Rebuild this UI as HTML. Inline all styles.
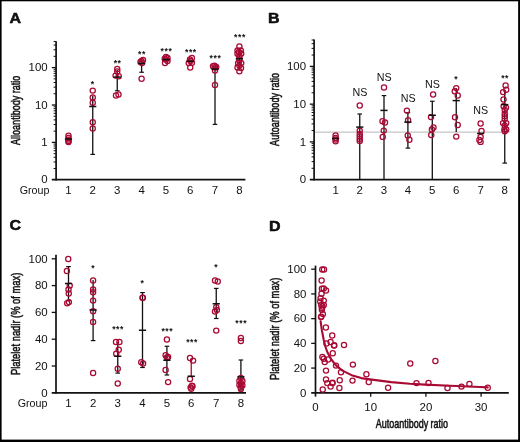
<!DOCTYPE html>
<html><head><meta charset="utf-8"><title>Figure</title>
<style>
html,body{margin:0;padding:0;background:#fff;}
body{width:520px;height:442px;overflow:hidden;position:relative;}
svg{position:absolute;left:0;top:0;display:block;font-family:"Liberation Sans",sans-serif;fill:#111;}
</style></head><body>
<svg width="520" height="442" viewBox="0 0 520 442">
<rect x="0" y="0" width="520" height="442" fill="#fff"/>
<text transform="translate(15.40,23.40) scale(1.07,1)" font-size="15" text-anchor="middle" font-weight="bold" stroke="#000" stroke-width="0.5" stroke-linejoin="round">A</text>
<line x1="56.10" y1="41.20" x2="56.10" y2="180.45" stroke="#111" stroke-width="1.7" stroke-linecap="butt"/>
<line x1="51.80" y1="179.60" x2="245.40" y2="179.60" stroke="#111" stroke-width="1.7" stroke-linecap="butt"/>
<line x1="53.60" y1="168.54" x2="56.10" y2="168.54" stroke="#111" stroke-width="1.0" stroke-linecap="butt"/>
<line x1="53.60" y1="161.96" x2="56.10" y2="161.96" stroke="#111" stroke-width="1.0" stroke-linecap="butt"/>
<line x1="53.60" y1="157.28" x2="56.10" y2="157.28" stroke="#111" stroke-width="1.0" stroke-linecap="butt"/>
<line x1="53.60" y1="153.66" x2="56.10" y2="153.66" stroke="#111" stroke-width="1.0" stroke-linecap="butt"/>
<line x1="53.60" y1="150.70" x2="56.10" y2="150.70" stroke="#111" stroke-width="1.0" stroke-linecap="butt"/>
<line x1="53.60" y1="148.19" x2="56.10" y2="148.19" stroke="#111" stroke-width="1.0" stroke-linecap="butt"/>
<line x1="53.60" y1="146.02" x2="56.10" y2="146.02" stroke="#111" stroke-width="1.0" stroke-linecap="butt"/>
<line x1="53.60" y1="144.11" x2="56.10" y2="144.11" stroke="#111" stroke-width="1.0" stroke-linecap="butt"/>
<line x1="51.80" y1="142.40" x2="56.10" y2="142.40" stroke="#111" stroke-width="1.3" stroke-linecap="butt"/>
<line x1="53.60" y1="131.14" x2="56.10" y2="131.14" stroke="#111" stroke-width="1.0" stroke-linecap="butt"/>
<line x1="53.60" y1="124.56" x2="56.10" y2="124.56" stroke="#111" stroke-width="1.0" stroke-linecap="butt"/>
<line x1="53.60" y1="119.88" x2="56.10" y2="119.88" stroke="#111" stroke-width="1.0" stroke-linecap="butt"/>
<line x1="53.60" y1="116.26" x2="56.10" y2="116.26" stroke="#111" stroke-width="1.0" stroke-linecap="butt"/>
<line x1="53.60" y1="113.30" x2="56.10" y2="113.30" stroke="#111" stroke-width="1.0" stroke-linecap="butt"/>
<line x1="53.60" y1="110.79" x2="56.10" y2="110.79" stroke="#111" stroke-width="1.0" stroke-linecap="butt"/>
<line x1="53.60" y1="108.62" x2="56.10" y2="108.62" stroke="#111" stroke-width="1.0" stroke-linecap="butt"/>
<line x1="53.60" y1="106.71" x2="56.10" y2="106.71" stroke="#111" stroke-width="1.0" stroke-linecap="butt"/>
<line x1="51.80" y1="105.00" x2="56.10" y2="105.00" stroke="#111" stroke-width="1.3" stroke-linecap="butt"/>
<line x1="53.60" y1="93.74" x2="56.10" y2="93.74" stroke="#111" stroke-width="1.0" stroke-linecap="butt"/>
<line x1="53.60" y1="87.16" x2="56.10" y2="87.16" stroke="#111" stroke-width="1.0" stroke-linecap="butt"/>
<line x1="53.60" y1="82.48" x2="56.10" y2="82.48" stroke="#111" stroke-width="1.0" stroke-linecap="butt"/>
<line x1="53.60" y1="78.86" x2="56.10" y2="78.86" stroke="#111" stroke-width="1.0" stroke-linecap="butt"/>
<line x1="53.60" y1="75.90" x2="56.10" y2="75.90" stroke="#111" stroke-width="1.0" stroke-linecap="butt"/>
<line x1="53.60" y1="73.39" x2="56.10" y2="73.39" stroke="#111" stroke-width="1.0" stroke-linecap="butt"/>
<line x1="53.60" y1="71.22" x2="56.10" y2="71.22" stroke="#111" stroke-width="1.0" stroke-linecap="butt"/>
<line x1="53.60" y1="69.31" x2="56.10" y2="69.31" stroke="#111" stroke-width="1.0" stroke-linecap="butt"/>
<line x1="51.80" y1="67.60" x2="56.10" y2="67.60" stroke="#111" stroke-width="1.3" stroke-linecap="butt"/>
<line x1="53.60" y1="56.34" x2="56.10" y2="56.34" stroke="#111" stroke-width="1.0" stroke-linecap="butt"/>
<line x1="53.60" y1="49.76" x2="56.10" y2="49.76" stroke="#111" stroke-width="1.0" stroke-linecap="butt"/>
<line x1="53.60" y1="45.08" x2="56.10" y2="45.08" stroke="#111" stroke-width="1.0" stroke-linecap="butt"/>
<line x1="53.60" y1="41.46" x2="56.10" y2="41.46" stroke="#111" stroke-width="1.0" stroke-linecap="butt"/>
<text transform="translate(47.70,71.25) scale(1.08,1)" font-size="10.6" text-anchor="end" font-weight="normal" >100</text>
<text transform="translate(47.70,108.75) scale(1.08,1)" font-size="10.6" text-anchor="end" font-weight="normal" >10</text>
<text transform="translate(47.70,146.15) scale(1.08,1)" font-size="10.6" text-anchor="end" font-weight="normal" >1</text>
<text transform="translate(47.70,183.35) scale(1.08,1)" font-size="10.6" text-anchor="end" font-weight="normal" >0</text>
<text transform="translate(20.00,110.30) rotate(-90) scale(0.7077,1)" font-size="12.8" text-anchor="middle" stroke="#111" stroke-width="0.55" stroke-linejoin="round">Alloantibody ratio</text>
<text transform="translate(34.60,193.50) scale(1.0,1)" font-size="10.7" text-anchor="middle" font-weight="normal" >Group</text>
<text transform="translate(68.50,193.70) scale(1.08,1)" font-size="10.6" text-anchor="middle" font-weight="normal" >1</text>
<text transform="translate(92.75,193.70) scale(1.08,1)" font-size="10.6" text-anchor="middle" font-weight="normal" >2</text>
<text transform="translate(117.25,193.70) scale(1.08,1)" font-size="10.6" text-anchor="middle" font-weight="normal" >3</text>
<text transform="translate(141.60,193.70) scale(1.08,1)" font-size="10.6" text-anchor="middle" font-weight="normal" >4</text>
<text transform="translate(166.00,193.70) scale(1.08,1)" font-size="10.6" text-anchor="middle" font-weight="normal" >5</text>
<text transform="translate(190.30,193.70) scale(1.08,1)" font-size="10.6" text-anchor="middle" font-weight="normal" >6</text>
<text transform="translate(215.00,193.70) scale(1.08,1)" font-size="10.6" text-anchor="middle" font-weight="normal" >7</text>
<text transform="translate(239.40,193.70) scale(1.08,1)" font-size="10.6" text-anchor="middle" font-weight="normal" >8</text>
<line x1="92.75" y1="95.60" x2="92.75" y2="154.40" stroke="#111" stroke-width="1.3" stroke-linecap="butt"/>
<line x1="90.45" y1="154.40" x2="95.05" y2="154.40" stroke="#111" stroke-width="1.2" stroke-linecap="butt"/>
<line x1="117.25" y1="70.00" x2="117.25" y2="90.75" stroke="#111" stroke-width="1.3" stroke-linecap="butt"/>
<line x1="114.95" y1="90.75" x2="119.55" y2="90.75" stroke="#111" stroke-width="1.2" stroke-linecap="butt"/>
<line x1="141.60" y1="60.00" x2="141.60" y2="72.25" stroke="#111" stroke-width="1.3" stroke-linecap="butt"/>
<line x1="139.30" y1="72.25" x2="143.90" y2="72.25" stroke="#111" stroke-width="1.2" stroke-linecap="butt"/>
<line x1="215.00" y1="66.00" x2="215.00" y2="124.40" stroke="#111" stroke-width="1.3" stroke-linecap="butt"/>
<line x1="212.70" y1="124.40" x2="217.30" y2="124.40" stroke="#111" stroke-width="1.2" stroke-linecap="butt"/>
<line x1="239.40" y1="50.00" x2="239.40" y2="68.00" stroke="#111" stroke-width="1.3" stroke-linecap="butt"/>
<circle cx="68.50" cy="135.60" r="2.6" fill="none" stroke="#A90A33" stroke-width="1.25"/>
<circle cx="68.50" cy="138.00" r="2.6" fill="none" stroke="#A90A33" stroke-width="1.25"/>
<circle cx="68.50" cy="139.60" r="2.6" fill="none" stroke="#A90A33" stroke-width="1.25"/>
<circle cx="68.50" cy="141.00" r="2.6" fill="none" stroke="#A90A33" stroke-width="1.25"/>
<circle cx="68.50" cy="142.00" r="2.6" fill="none" stroke="#A90A33" stroke-width="1.25"/>
<circle cx="92.75" cy="90.60" r="2.6" fill="none" stroke="#A90A33" stroke-width="1.25"/>
<circle cx="92.75" cy="97.50" r="2.6" fill="none" stroke="#A90A33" stroke-width="1.25"/>
<circle cx="92.75" cy="102.75" r="2.6" fill="none" stroke="#A90A33" stroke-width="1.25"/>
<circle cx="92.75" cy="122.25" r="2.6" fill="none" stroke="#A90A33" stroke-width="1.25"/>
<circle cx="92.75" cy="128.50" r="2.6" fill="none" stroke="#A90A33" stroke-width="1.25"/>
<circle cx="117.25" cy="69.00" r="2.6" fill="none" stroke="#A90A33" stroke-width="1.25"/>
<circle cx="117.25" cy="71.40" r="2.6" fill="none" stroke="#A90A33" stroke-width="1.25"/>
<circle cx="115.60" cy="75.60" r="2.6" fill="none" stroke="#A90A33" stroke-width="1.25"/>
<circle cx="118.75" cy="76.25" r="2.6" fill="none" stroke="#A90A33" stroke-width="1.25"/>
<circle cx="116.00" cy="95.40" r="2.6" fill="none" stroke="#A90A33" stroke-width="1.25"/>
<circle cx="118.50" cy="94.40" r="2.6" fill="none" stroke="#A90A33" stroke-width="1.25"/>
<circle cx="140.50" cy="62.00" r="2.6" fill="none" stroke="#A90A33" stroke-width="1.25"/>
<circle cx="143.00" cy="60.00" r="2.6" fill="none" stroke="#A90A33" stroke-width="1.25"/>
<circle cx="141.50" cy="61.00" r="2.6" fill="none" stroke="#A90A33" stroke-width="1.25"/>
<circle cx="142.00" cy="63.00" r="2.6" fill="none" stroke="#A90A33" stroke-width="1.25"/>
<circle cx="141.60" cy="78.75" r="2.6" fill="none" stroke="#A90A33" stroke-width="1.25"/>
<circle cx="166.00" cy="56.90" r="2.6" fill="none" stroke="#A90A33" stroke-width="1.25"/>
<circle cx="164.75" cy="58.75" r="2.6" fill="none" stroke="#A90A33" stroke-width="1.25"/>
<circle cx="167.50" cy="58.00" r="2.6" fill="none" stroke="#A90A33" stroke-width="1.25"/>
<circle cx="165.00" cy="63.00" r="2.6" fill="none" stroke="#A90A33" stroke-width="1.25"/>
<circle cx="167.50" cy="61.00" r="2.6" fill="none" stroke="#A90A33" stroke-width="1.25"/>
<circle cx="166.00" cy="59.50" r="2.6" fill="none" stroke="#A90A33" stroke-width="1.25"/>
<circle cx="190.00" cy="59.40" r="2.6" fill="none" stroke="#A90A33" stroke-width="1.25"/>
<circle cx="191.90" cy="58.00" r="2.6" fill="none" stroke="#A90A33" stroke-width="1.25"/>
<circle cx="188.75" cy="63.00" r="2.6" fill="none" stroke="#A90A33" stroke-width="1.25"/>
<circle cx="191.90" cy="62.75" r="2.6" fill="none" stroke="#A90A33" stroke-width="1.25"/>
<circle cx="190.25" cy="67.50" r="2.6" fill="none" stroke="#A90A33" stroke-width="1.25"/>
<circle cx="190.50" cy="61.00" r="2.6" fill="none" stroke="#A90A33" stroke-width="1.25"/>
<circle cx="214.40" cy="65.60" r="2.6" fill="none" stroke="#A90A33" stroke-width="1.25"/>
<circle cx="216.25" cy="66.90" r="2.6" fill="none" stroke="#A90A33" stroke-width="1.25"/>
<circle cx="213.00" cy="66.25" r="2.6" fill="none" stroke="#A90A33" stroke-width="1.25"/>
<circle cx="215.00" cy="70.60" r="2.6" fill="none" stroke="#A90A33" stroke-width="1.25"/>
<circle cx="215.00" cy="67.50" r="2.6" fill="none" stroke="#A90A33" stroke-width="1.25"/>
<circle cx="215.00" cy="85.00" r="2.6" fill="none" stroke="#A90A33" stroke-width="1.25"/>
<circle cx="239.40" cy="46.50" r="2.6" fill="none" stroke="#A90A33" stroke-width="1.25"/>
<circle cx="237.50" cy="50.50" r="2.6" fill="none" stroke="#A90A33" stroke-width="1.25"/>
<circle cx="240.80" cy="50.50" r="2.6" fill="none" stroke="#A90A33" stroke-width="1.25"/>
<circle cx="238.75" cy="51.90" r="2.6" fill="none" stroke="#A90A33" stroke-width="1.25"/>
<circle cx="237.50" cy="53.75" r="2.6" fill="none" stroke="#A90A33" stroke-width="1.25"/>
<circle cx="241.25" cy="53.50" r="2.6" fill="none" stroke="#A90A33" stroke-width="1.25"/>
<circle cx="239.40" cy="55.60" r="2.6" fill="none" stroke="#A90A33" stroke-width="1.25"/>
<circle cx="238.10" cy="63.10" r="2.6" fill="none" stroke="#A90A33" stroke-width="1.25"/>
<circle cx="241.25" cy="63.10" r="2.6" fill="none" stroke="#A90A33" stroke-width="1.25"/>
<circle cx="239.40" cy="65.60" r="2.6" fill="none" stroke="#A90A33" stroke-width="1.25"/>
<circle cx="237.50" cy="67.50" r="2.6" fill="none" stroke="#A90A33" stroke-width="1.25"/>
<circle cx="241.00" cy="68.10" r="2.6" fill="none" stroke="#A90A33" stroke-width="1.25"/>
<circle cx="239.40" cy="71.25" r="2.6" fill="none" stroke="#A90A33" stroke-width="1.25"/>
<circle cx="239.40" cy="60.50" r="2.6" fill="none" stroke="#A90A33" stroke-width="1.25"/>
<circle cx="239.40" cy="58.00" r="2.6" fill="none" stroke="#A90A33" stroke-width="1.25"/>
<line x1="64.90" y1="139.00" x2="72.10" y2="139.00" stroke="#111" stroke-width="1.5" stroke-linecap="butt"/>
<line x1="89.15" y1="106.50" x2="96.35" y2="106.50" stroke="#111" stroke-width="1.5" stroke-linecap="butt"/>
<line x1="113.65" y1="77.10" x2="120.85" y2="77.10" stroke="#111" stroke-width="1.5" stroke-linecap="butt"/>
<line x1="138.00" y1="63.50" x2="145.20" y2="63.50" stroke="#111" stroke-width="1.5" stroke-linecap="butt"/>
<line x1="162.40" y1="59.60" x2="169.60" y2="59.60" stroke="#111" stroke-width="1.5" stroke-linecap="butt"/>
<line x1="186.70" y1="61.25" x2="193.90" y2="61.25" stroke="#111" stroke-width="1.5" stroke-linecap="butt"/>
<line x1="211.40" y1="69.10" x2="218.60" y2="69.10" stroke="#111" stroke-width="1.5" stroke-linecap="butt"/>
<line x1="235.80" y1="58.75" x2="243.00" y2="58.75" stroke="#111" stroke-width="1.5" stroke-linecap="butt"/>
<text transform="translate(92.60,86.79) scale(1.0,1)" font-size="8.6" text-anchor="middle" font-weight="bold" letter-spacing="0.6">*</text>
<text transform="translate(117.60,66.39) scale(1.0,1)" font-size="8.6" text-anchor="middle" font-weight="bold" letter-spacing="0.6">**</text>
<text transform="translate(142.00,56.99) scale(1.0,1)" font-size="8.6" text-anchor="middle" font-weight="bold" letter-spacing="0.6">**</text>
<text transform="translate(166.50,53.89) scale(1.0,1)" font-size="8.6" text-anchor="middle" font-weight="bold" letter-spacing="0.6">***</text>
<text transform="translate(190.90,55.49) scale(1.0,1)" font-size="8.6" text-anchor="middle" font-weight="bold" letter-spacing="0.6">***</text>
<text transform="translate(215.50,61.09) scale(1.0,1)" font-size="8.6" text-anchor="middle" font-weight="bold" letter-spacing="0.6">***</text>
<text transform="translate(240.00,39.89) scale(1.0,1)" font-size="8.6" text-anchor="middle" font-weight="bold" letter-spacing="0.6">***</text>
<text transform="translate(273.80,23.40) scale(1.07,1)" font-size="15" text-anchor="middle" font-weight="bold" stroke="#000" stroke-width="0.5" stroke-linejoin="round">B</text>
<line x1="314.10" y1="39.60" x2="314.10" y2="180.45" stroke="#111" stroke-width="1.7" stroke-linecap="butt"/>
<line x1="309.80" y1="179.60" x2="509.80" y2="179.60" stroke="#111" stroke-width="1.7" stroke-linecap="butt"/>
<line x1="311.60" y1="168.29" x2="314.10" y2="168.29" stroke="#111" stroke-width="1.0" stroke-linecap="butt"/>
<line x1="311.60" y1="161.64" x2="314.10" y2="161.64" stroke="#111" stroke-width="1.0" stroke-linecap="butt"/>
<line x1="311.60" y1="156.92" x2="314.10" y2="156.92" stroke="#111" stroke-width="1.0" stroke-linecap="butt"/>
<line x1="311.60" y1="153.26" x2="314.10" y2="153.26" stroke="#111" stroke-width="1.0" stroke-linecap="butt"/>
<line x1="311.60" y1="150.27" x2="314.10" y2="150.27" stroke="#111" stroke-width="1.0" stroke-linecap="butt"/>
<line x1="311.60" y1="147.75" x2="314.10" y2="147.75" stroke="#111" stroke-width="1.0" stroke-linecap="butt"/>
<line x1="311.60" y1="145.56" x2="314.10" y2="145.56" stroke="#111" stroke-width="1.0" stroke-linecap="butt"/>
<line x1="311.60" y1="143.63" x2="314.10" y2="143.63" stroke="#111" stroke-width="1.0" stroke-linecap="butt"/>
<line x1="309.80" y1="141.90" x2="314.10" y2="141.90" stroke="#111" stroke-width="1.3" stroke-linecap="butt"/>
<line x1="311.60" y1="130.54" x2="314.10" y2="130.54" stroke="#111" stroke-width="1.0" stroke-linecap="butt"/>
<line x1="311.60" y1="123.89" x2="314.10" y2="123.89" stroke="#111" stroke-width="1.0" stroke-linecap="butt"/>
<line x1="311.60" y1="119.17" x2="314.10" y2="119.17" stroke="#111" stroke-width="1.0" stroke-linecap="butt"/>
<line x1="311.60" y1="115.51" x2="314.10" y2="115.51" stroke="#111" stroke-width="1.0" stroke-linecap="butt"/>
<line x1="311.60" y1="112.52" x2="314.10" y2="112.52" stroke="#111" stroke-width="1.0" stroke-linecap="butt"/>
<line x1="311.60" y1="110.00" x2="314.10" y2="110.00" stroke="#111" stroke-width="1.0" stroke-linecap="butt"/>
<line x1="311.60" y1="107.81" x2="314.10" y2="107.81" stroke="#111" stroke-width="1.0" stroke-linecap="butt"/>
<line x1="311.60" y1="105.88" x2="314.10" y2="105.88" stroke="#111" stroke-width="1.0" stroke-linecap="butt"/>
<line x1="309.80" y1="104.15" x2="314.10" y2="104.15" stroke="#111" stroke-width="1.3" stroke-linecap="butt"/>
<line x1="311.60" y1="92.79" x2="314.10" y2="92.79" stroke="#111" stroke-width="1.0" stroke-linecap="butt"/>
<line x1="311.60" y1="86.14" x2="314.10" y2="86.14" stroke="#111" stroke-width="1.0" stroke-linecap="butt"/>
<line x1="311.60" y1="81.42" x2="314.10" y2="81.42" stroke="#111" stroke-width="1.0" stroke-linecap="butt"/>
<line x1="311.60" y1="77.76" x2="314.10" y2="77.76" stroke="#111" stroke-width="1.0" stroke-linecap="butt"/>
<line x1="311.60" y1="74.77" x2="314.10" y2="74.77" stroke="#111" stroke-width="1.0" stroke-linecap="butt"/>
<line x1="311.60" y1="72.25" x2="314.10" y2="72.25" stroke="#111" stroke-width="1.0" stroke-linecap="butt"/>
<line x1="311.60" y1="70.06" x2="314.10" y2="70.06" stroke="#111" stroke-width="1.0" stroke-linecap="butt"/>
<line x1="311.60" y1="68.13" x2="314.10" y2="68.13" stroke="#111" stroke-width="1.0" stroke-linecap="butt"/>
<line x1="309.80" y1="66.40" x2="314.10" y2="66.40" stroke="#111" stroke-width="1.3" stroke-linecap="butt"/>
<line x1="311.60" y1="55.04" x2="314.10" y2="55.04" stroke="#111" stroke-width="1.0" stroke-linecap="butt"/>
<line x1="311.60" y1="48.39" x2="314.10" y2="48.39" stroke="#111" stroke-width="1.0" stroke-linecap="butt"/>
<line x1="311.60" y1="43.67" x2="314.10" y2="43.67" stroke="#111" stroke-width="1.0" stroke-linecap="butt"/>
<line x1="311.60" y1="40.01" x2="314.10" y2="40.01" stroke="#111" stroke-width="1.0" stroke-linecap="butt"/>
<text transform="translate(306.00,70.05) scale(1.08,1)" font-size="10.6" text-anchor="end" font-weight="normal" >100</text>
<text transform="translate(306.00,107.85) scale(1.08,1)" font-size="10.6" text-anchor="end" font-weight="normal" >10</text>
<text transform="translate(306.00,145.65) scale(1.08,1)" font-size="10.6" text-anchor="end" font-weight="normal" >1</text>
<text transform="translate(306.00,183.35) scale(1.08,1)" font-size="10.6" text-anchor="end" font-weight="normal" >0</text>
<text transform="translate(279.20,109.40) rotate(-90) scale(0.7075,1)" font-size="12.8" text-anchor="middle" stroke="#111" stroke-width="0.55" stroke-linejoin="round">Autoantibody ratio</text>
<text transform="translate(335.60,193.70) scale(1.08,1)" font-size="10.6" text-anchor="middle" font-weight="normal" >1</text>
<text transform="translate(359.75,193.70) scale(1.08,1)" font-size="10.6" text-anchor="middle" font-weight="normal" >2</text>
<text transform="translate(384.00,193.70) scale(1.08,1)" font-size="10.6" text-anchor="middle" font-weight="normal" >3</text>
<text transform="translate(407.90,193.70) scale(1.08,1)" font-size="10.6" text-anchor="middle" font-weight="normal" >4</text>
<text transform="translate(432.30,193.70) scale(1.08,1)" font-size="10.6" text-anchor="middle" font-weight="normal" >5</text>
<text transform="translate(456.25,193.70) scale(1.08,1)" font-size="10.6" text-anchor="middle" font-weight="normal" >6</text>
<text transform="translate(480.60,193.70) scale(1.08,1)" font-size="10.6" text-anchor="middle" font-weight="normal" >7</text>
<text transform="translate(504.75,193.70) scale(1.08,1)" font-size="10.6" text-anchor="middle" font-weight="normal" >8</text>
<line x1="315.00" y1="132.10" x2="510.00" y2="132.10" stroke="#c4c4c8" stroke-width="1.4" stroke-linecap="butt"/>
<line x1="359.75" y1="114.00" x2="359.75" y2="179.60" stroke="#111" stroke-width="1.3" stroke-linecap="butt"/>
<line x1="357.45" y1="114.00" x2="362.05" y2="114.00" stroke="#111" stroke-width="1.2" stroke-linecap="butt"/>
<line x1="384.00" y1="95.60" x2="384.00" y2="179.60" stroke="#111" stroke-width="1.3" stroke-linecap="butt"/>
<line x1="381.70" y1="95.60" x2="386.30" y2="95.60" stroke="#111" stroke-width="1.2" stroke-linecap="butt"/>
<line x1="407.90" y1="112.75" x2="407.90" y2="148.10" stroke="#111" stroke-width="1.3" stroke-linecap="butt"/>
<line x1="405.60" y1="112.75" x2="410.20" y2="112.75" stroke="#111" stroke-width="1.2" stroke-linecap="butt"/>
<line x1="405.60" y1="148.10" x2="410.20" y2="148.10" stroke="#111" stroke-width="1.2" stroke-linecap="butt"/>
<line x1="432.30" y1="101.25" x2="432.30" y2="179.60" stroke="#111" stroke-width="1.3" stroke-linecap="butt"/>
<line x1="430.00" y1="101.25" x2="434.60" y2="101.25" stroke="#111" stroke-width="1.2" stroke-linecap="butt"/>
<line x1="456.25" y1="88.00" x2="456.25" y2="131.90" stroke="#111" stroke-width="1.3" stroke-linecap="butt"/>
<line x1="504.75" y1="90.00" x2="504.75" y2="163.10" stroke="#111" stroke-width="1.3" stroke-linecap="butt"/>
<line x1="502.45" y1="163.10" x2="507.05" y2="163.10" stroke="#111" stroke-width="1.2" stroke-linecap="butt"/>
<circle cx="335.60" cy="135.50" r="2.6" fill="none" stroke="#A90A33" stroke-width="1.25"/>
<circle cx="335.60" cy="138.00" r="2.6" fill="none" stroke="#A90A33" stroke-width="1.25"/>
<circle cx="335.60" cy="139.50" r="2.6" fill="none" stroke="#A90A33" stroke-width="1.25"/>
<circle cx="335.60" cy="141.20" r="2.6" fill="none" stroke="#A90A33" stroke-width="1.25"/>
<circle cx="359.75" cy="105.40" r="2.6" fill="none" stroke="#A90A33" stroke-width="1.25"/>
<circle cx="359.75" cy="130.60" r="2.6" fill="none" stroke="#A90A33" stroke-width="1.25"/>
<circle cx="359.75" cy="134.00" r="2.6" fill="none" stroke="#A90A33" stroke-width="1.25"/>
<circle cx="359.75" cy="136.50" r="2.6" fill="none" stroke="#A90A33" stroke-width="1.25"/>
<circle cx="359.75" cy="139.00" r="2.6" fill="none" stroke="#A90A33" stroke-width="1.25"/>
<circle cx="359.75" cy="141.00" r="2.6" fill="none" stroke="#A90A33" stroke-width="1.25"/>
<circle cx="384.00" cy="87.50" r="2.6" fill="none" stroke="#A90A33" stroke-width="1.25"/>
<circle cx="382.50" cy="121.25" r="2.6" fill="none" stroke="#A90A33" stroke-width="1.25"/>
<circle cx="385.00" cy="122.50" r="2.6" fill="none" stroke="#A90A33" stroke-width="1.25"/>
<circle cx="383.75" cy="130.60" r="2.6" fill="none" stroke="#A90A33" stroke-width="1.25"/>
<circle cx="382.75" cy="136.90" r="2.6" fill="none" stroke="#A90A33" stroke-width="1.25"/>
<circle cx="406.90" cy="110.60" r="2.6" fill="none" stroke="#A90A33" stroke-width="1.25"/>
<circle cx="408.10" cy="120.25" r="2.6" fill="none" stroke="#A90A33" stroke-width="1.25"/>
<circle cx="407.75" cy="135.40" r="2.6" fill="none" stroke="#A90A33" stroke-width="1.25"/>
<circle cx="409.40" cy="139.75" r="2.6" fill="none" stroke="#A90A33" stroke-width="1.25"/>
<circle cx="433.10" cy="94.40" r="2.6" fill="none" stroke="#A90A33" stroke-width="1.25"/>
<circle cx="431.00" cy="117.10" r="2.6" fill="none" stroke="#A90A33" stroke-width="1.25"/>
<circle cx="433.50" cy="127.50" r="2.6" fill="none" stroke="#A90A33" stroke-width="1.25"/>
<circle cx="431.90" cy="129.40" r="2.6" fill="none" stroke="#A90A33" stroke-width="1.25"/>
<circle cx="431.25" cy="135.00" r="2.6" fill="none" stroke="#A90A33" stroke-width="1.25"/>
<circle cx="456.25" cy="88.10" r="2.6" fill="none" stroke="#A90A33" stroke-width="1.25"/>
<circle cx="454.75" cy="91.25" r="2.6" fill="none" stroke="#A90A33" stroke-width="1.25"/>
<circle cx="457.75" cy="95.40" r="2.6" fill="none" stroke="#A90A33" stroke-width="1.25"/>
<circle cx="455.00" cy="117.25" r="2.6" fill="none" stroke="#A90A33" stroke-width="1.25"/>
<circle cx="457.75" cy="125.00" r="2.6" fill="none" stroke="#A90A33" stroke-width="1.25"/>
<circle cx="456.25" cy="136.60" r="2.6" fill="none" stroke="#A90A33" stroke-width="1.25"/>
<circle cx="480.60" cy="123.40" r="2.6" fill="none" stroke="#A90A33" stroke-width="1.25"/>
<circle cx="481.50" cy="131.00" r="2.6" fill="none" stroke="#A90A33" stroke-width="1.25"/>
<circle cx="480.60" cy="136.90" r="2.6" fill="none" stroke="#A90A33" stroke-width="1.25"/>
<circle cx="479.40" cy="140.00" r="2.6" fill="none" stroke="#A90A33" stroke-width="1.25"/>
<circle cx="480.60" cy="141.90" r="2.6" fill="none" stroke="#A90A33" stroke-width="1.25"/>
<circle cx="505.60" cy="85.40" r="2.6" fill="none" stroke="#A90A33" stroke-width="1.25"/>
<circle cx="506.25" cy="89.75" r="2.6" fill="none" stroke="#A90A33" stroke-width="1.25"/>
<circle cx="503.10" cy="92.10" r="2.6" fill="none" stroke="#A90A33" stroke-width="1.25"/>
<circle cx="503.50" cy="99.40" r="2.6" fill="none" stroke="#A90A33" stroke-width="1.25"/>
<circle cx="503.60" cy="106.30" r="2.6" fill="none" stroke="#A90A33" stroke-width="1.25"/>
<circle cx="506.00" cy="107.60" r="2.6" fill="none" stroke="#A90A33" stroke-width="1.25"/>
<circle cx="504.75" cy="110.00" r="2.6" fill="none" stroke="#A90A33" stroke-width="1.25"/>
<circle cx="504.75" cy="113.75" r="2.6" fill="none" stroke="#A90A33" stroke-width="1.25"/>
<circle cx="504.75" cy="116.25" r="2.6" fill="none" stroke="#A90A33" stroke-width="1.25"/>
<circle cx="504.75" cy="118.75" r="2.6" fill="none" stroke="#A90A33" stroke-width="1.25"/>
<circle cx="503.10" cy="123.10" r="2.6" fill="none" stroke="#A90A33" stroke-width="1.25"/>
<circle cx="506.25" cy="123.10" r="2.6" fill="none" stroke="#A90A33" stroke-width="1.25"/>
<circle cx="504.75" cy="125.60" r="2.6" fill="none" stroke="#A90A33" stroke-width="1.25"/>
<circle cx="504.40" cy="129.40" r="2.6" fill="none" stroke="#A90A33" stroke-width="1.25"/>
<circle cx="506.25" cy="129.40" r="2.6" fill="none" stroke="#A90A33" stroke-width="1.25"/>
<circle cx="504.75" cy="131.25" r="2.6" fill="none" stroke="#A90A33" stroke-width="1.25"/>
<line x1="332.00" y1="138.50" x2="339.20" y2="138.50" stroke="#111" stroke-width="1.5" stroke-linecap="butt"/>
<line x1="356.15" y1="127.10" x2="363.35" y2="127.10" stroke="#111" stroke-width="1.5" stroke-linecap="butt"/>
<line x1="380.40" y1="110.40" x2="387.60" y2="110.40" stroke="#111" stroke-width="1.5" stroke-linecap="butt"/>
<line x1="404.30" y1="122.10" x2="411.50" y2="122.10" stroke="#111" stroke-width="1.5" stroke-linecap="butt"/>
<line x1="428.70" y1="115.25" x2="435.90" y2="115.25" stroke="#111" stroke-width="1.5" stroke-linecap="butt"/>
<line x1="452.65" y1="100.60" x2="459.85" y2="100.60" stroke="#111" stroke-width="1.5" stroke-linecap="butt"/>
<line x1="477.00" y1="133.50" x2="484.20" y2="133.50" stroke="#111" stroke-width="1.5" stroke-linecap="butt"/>
<line x1="501.15" y1="104.60" x2="508.35" y2="104.60" stroke="#111" stroke-width="1.5" stroke-linecap="butt"/>
<text transform="translate(359.90,96.00) scale(1.03,1)" font-size="10.4" text-anchor="middle" font-weight="normal" >NS</text>
<text transform="translate(384.20,80.60) scale(1.03,1)" font-size="10.4" text-anchor="middle" font-weight="normal" >NS</text>
<text transform="translate(408.10,101.50) scale(1.03,1)" font-size="10.4" text-anchor="middle" font-weight="normal" >NS</text>
<text transform="translate(432.50,88.10) scale(1.03,1)" font-size="10.4" text-anchor="middle" font-weight="normal" >NS</text>
<text transform="translate(480.60,114.00) scale(1.03,1)" font-size="10.4" text-anchor="middle" font-weight="normal" >NS</text>
<text transform="translate(456.25,81.74) scale(1.0,1)" font-size="8.6" text-anchor="middle" font-weight="bold" letter-spacing="0.6">*</text>
<text transform="translate(505.10,80.99) scale(1.0,1)" font-size="8.6" text-anchor="middle" font-weight="bold" letter-spacing="0.6">**</text>
<text transform="translate(15.40,230.40) scale(1.07,1)" font-size="15" text-anchor="middle" font-weight="bold" stroke="#000" stroke-width="0.5" stroke-linejoin="round">C</text>
<line x1="56.00" y1="254.80" x2="56.00" y2="393.65" stroke="#111" stroke-width="1.7" stroke-linecap="butt"/>
<line x1="51.70" y1="392.80" x2="246.00" y2="392.80" stroke="#111" stroke-width="1.7" stroke-linecap="butt"/>
<line x1="51.70" y1="366.00" x2="56.00" y2="366.00" stroke="#111" stroke-width="1.3" stroke-linecap="butt"/>
<line x1="51.70" y1="339.20" x2="56.00" y2="339.20" stroke="#111" stroke-width="1.3" stroke-linecap="butt"/>
<line x1="51.70" y1="312.40" x2="56.00" y2="312.40" stroke="#111" stroke-width="1.3" stroke-linecap="butt"/>
<line x1="51.70" y1="285.60" x2="56.00" y2="285.60" stroke="#111" stroke-width="1.3" stroke-linecap="butt"/>
<line x1="51.70" y1="258.80" x2="56.00" y2="258.80" stroke="#111" stroke-width="1.3" stroke-linecap="butt"/>
<text transform="translate(47.70,396.55) scale(1.08,1)" font-size="10.6" text-anchor="end" font-weight="normal" >0</text>
<text transform="translate(47.70,369.75) scale(1.08,1)" font-size="10.6" text-anchor="end" font-weight="normal" >20</text>
<text transform="translate(47.70,342.95) scale(1.08,1)" font-size="10.6" text-anchor="end" font-weight="normal" >40</text>
<text transform="translate(47.70,316.15) scale(1.08,1)" font-size="10.6" text-anchor="end" font-weight="normal" >60</text>
<text transform="translate(47.70,289.35) scale(1.08,1)" font-size="10.6" text-anchor="end" font-weight="normal" >80</text>
<text transform="translate(47.70,262.55) scale(1.08,1)" font-size="10.6" text-anchor="end" font-weight="normal" >100</text>
<text transform="translate(19.90,323.90) rotate(-90) scale(0.7314,1)" font-size="12.8" text-anchor="middle" stroke="#111" stroke-width="0.55" stroke-linejoin="round">Platelet nadir (% of max)</text>
<text transform="translate(32.60,406.80) scale(1.0,1)" font-size="10.7" text-anchor="middle" font-weight="normal" >Group</text>
<text transform="translate(68.50,406.90) scale(1.08,1)" font-size="10.6" text-anchor="middle" font-weight="normal" >1</text>
<text transform="translate(93.10,406.90) scale(1.08,1)" font-size="10.6" text-anchor="middle" font-weight="normal" >2</text>
<text transform="translate(117.75,406.90) scale(1.08,1)" font-size="10.6" text-anchor="middle" font-weight="normal" >3</text>
<text transform="translate(142.50,406.90) scale(1.08,1)" font-size="10.6" text-anchor="middle" font-weight="normal" >4</text>
<text transform="translate(166.90,406.90) scale(1.08,1)" font-size="10.6" text-anchor="middle" font-weight="normal" >5</text>
<text transform="translate(191.25,406.90) scale(1.08,1)" font-size="10.6" text-anchor="middle" font-weight="normal" >6</text>
<text transform="translate(216.25,406.90) scale(1.08,1)" font-size="10.6" text-anchor="middle" font-weight="normal" >7</text>
<text transform="translate(240.90,406.90) scale(1.08,1)" font-size="10.6" text-anchor="middle" font-weight="normal" >8</text>
<line x1="68.50" y1="266.60" x2="68.50" y2="300.50" stroke="#111" stroke-width="1.3" stroke-linecap="butt"/>
<line x1="66.20" y1="266.60" x2="70.80" y2="266.60" stroke="#111" stroke-width="1.2" stroke-linecap="butt"/>
<line x1="66.20" y1="300.50" x2="70.80" y2="300.50" stroke="#111" stroke-width="1.2" stroke-linecap="butt"/>
<line x1="93.10" y1="280.00" x2="93.10" y2="340.60" stroke="#111" stroke-width="1.3" stroke-linecap="butt"/>
<line x1="90.80" y1="340.60" x2="95.40" y2="340.60" stroke="#111" stroke-width="1.2" stroke-linecap="butt"/>
<line x1="117.75" y1="342.00" x2="117.75" y2="373.10" stroke="#111" stroke-width="1.3" stroke-linecap="butt"/>
<line x1="115.45" y1="373.10" x2="120.05" y2="373.10" stroke="#111" stroke-width="1.2" stroke-linecap="butt"/>
<line x1="142.50" y1="292.60" x2="142.50" y2="367.50" stroke="#111" stroke-width="1.3" stroke-linecap="butt"/>
<line x1="140.20" y1="292.60" x2="144.80" y2="292.60" stroke="#111" stroke-width="1.2" stroke-linecap="butt"/>
<line x1="140.20" y1="367.50" x2="144.80" y2="367.50" stroke="#111" stroke-width="1.2" stroke-linecap="butt"/>
<line x1="166.90" y1="346.25" x2="166.90" y2="375.00" stroke="#111" stroke-width="1.3" stroke-linecap="butt"/>
<line x1="164.60" y1="346.25" x2="169.20" y2="346.25" stroke="#111" stroke-width="1.2" stroke-linecap="butt"/>
<line x1="164.60" y1="375.00" x2="169.20" y2="375.00" stroke="#111" stroke-width="1.2" stroke-linecap="butt"/>
<line x1="191.25" y1="359.00" x2="191.25" y2="376.25" stroke="#A90A33" stroke-width="1.3" stroke-linecap="butt"/>
<line x1="216.25" y1="288.40" x2="216.25" y2="318.50" stroke="#111" stroke-width="1.3" stroke-linecap="butt"/>
<line x1="213.95" y1="288.40" x2="218.55" y2="288.40" stroke="#111" stroke-width="1.2" stroke-linecap="butt"/>
<line x1="213.95" y1="318.50" x2="218.55" y2="318.50" stroke="#111" stroke-width="1.2" stroke-linecap="butt"/>
<line x1="240.90" y1="360.00" x2="240.90" y2="390.00" stroke="#111" stroke-width="1.3" stroke-linecap="butt"/>
<line x1="238.60" y1="360.00" x2="243.20" y2="360.00" stroke="#111" stroke-width="1.2" stroke-linecap="butt"/>
<line x1="238.60" y1="390.00" x2="243.20" y2="390.00" stroke="#111" stroke-width="1.2" stroke-linecap="butt"/>
<circle cx="68.25" cy="259.00" r="2.6" fill="none" stroke="#A90A33" stroke-width="1.25"/>
<circle cx="66.90" cy="270.90" r="2.6" fill="none" stroke="#A90A33" stroke-width="1.25"/>
<circle cx="69.75" cy="285.60" r="2.6" fill="none" stroke="#A90A33" stroke-width="1.25"/>
<circle cx="68.50" cy="289.40" r="2.6" fill="none" stroke="#A90A33" stroke-width="1.25"/>
<circle cx="68.75" cy="293.40" r="2.6" fill="none" stroke="#A90A33" stroke-width="1.25"/>
<circle cx="67.20" cy="303.30" r="2.6" fill="none" stroke="#A90A33" stroke-width="1.25"/>
<circle cx="68.90" cy="302.10" r="2.6" fill="none" stroke="#A90A33" stroke-width="1.25"/>
<circle cx="93.10" cy="280.40" r="2.6" fill="none" stroke="#A90A33" stroke-width="1.25"/>
<circle cx="93.10" cy="289.40" r="2.6" fill="none" stroke="#A90A33" stroke-width="1.25"/>
<circle cx="93.10" cy="292.20" r="2.6" fill="none" stroke="#A90A33" stroke-width="1.25"/>
<circle cx="93.10" cy="300.60" r="2.6" fill="none" stroke="#A90A33" stroke-width="1.25"/>
<circle cx="93.10" cy="311.25" r="2.6" fill="none" stroke="#A90A33" stroke-width="1.25"/>
<circle cx="93.10" cy="321.90" r="2.6" fill="none" stroke="#A90A33" stroke-width="1.25"/>
<circle cx="93.10" cy="372.90" r="2.6" fill="none" stroke="#A90A33" stroke-width="1.25"/>
<circle cx="116.00" cy="341.90" r="2.6" fill="none" stroke="#A90A33" stroke-width="1.25"/>
<circle cx="119.40" cy="341.90" r="2.6" fill="none" stroke="#A90A33" stroke-width="1.25"/>
<circle cx="118.75" cy="349.75" r="2.6" fill="none" stroke="#A90A33" stroke-width="1.25"/>
<circle cx="116.25" cy="353.75" r="2.6" fill="none" stroke="#A90A33" stroke-width="1.25"/>
<circle cx="117.75" cy="368.75" r="2.6" fill="none" stroke="#A90A33" stroke-width="1.25"/>
<circle cx="117.75" cy="383.50" r="2.6" fill="none" stroke="#A90A33" stroke-width="1.25"/>
<circle cx="142.90" cy="297.75" r="2.6" fill="none" stroke="#A90A33" stroke-width="1.25"/>
<circle cx="142.50" cy="297.75" r="2.6" fill="none" stroke="#A90A33" stroke-width="1.25"/>
<circle cx="141.25" cy="362.25" r="2.6" fill="none" stroke="#A90A33" stroke-width="1.25"/>
<circle cx="143.10" cy="363.40" r="2.6" fill="none" stroke="#A90A33" stroke-width="1.25"/>
<circle cx="166.90" cy="339.40" r="2.6" fill="none" stroke="#A90A33" stroke-width="1.25"/>
<circle cx="165.60" cy="355.25" r="2.6" fill="none" stroke="#A90A33" stroke-width="1.25"/>
<circle cx="168.10" cy="356.90" r="2.6" fill="none" stroke="#A90A33" stroke-width="1.25"/>
<circle cx="166.90" cy="357.50" r="2.6" fill="none" stroke="#A90A33" stroke-width="1.25"/>
<circle cx="165.60" cy="370.00" r="2.6" fill="none" stroke="#A90A33" stroke-width="1.25"/>
<circle cx="168.10" cy="382.10" r="2.6" fill="none" stroke="#A90A33" stroke-width="1.25"/>
<circle cx="190.00" cy="357.90" r="2.6" fill="none" stroke="#A90A33" stroke-width="1.25"/>
<circle cx="193.10" cy="360.60" r="2.6" fill="none" stroke="#A90A33" stroke-width="1.25"/>
<circle cx="190.00" cy="379.00" r="2.6" fill="none" stroke="#A90A33" stroke-width="1.25"/>
<circle cx="191.90" cy="385.60" r="2.6" fill="none" stroke="#A90A33" stroke-width="1.25"/>
<circle cx="191.25" cy="388.75" r="2.6" fill="none" stroke="#A90A33" stroke-width="1.25"/>
<circle cx="192.50" cy="386.30" r="2.6" fill="none" stroke="#A90A33" stroke-width="1.25"/>
<circle cx="190.60" cy="387.50" r="2.6" fill="none" stroke="#A90A33" stroke-width="1.25"/>
<circle cx="215.00" cy="280.40" r="2.6" fill="none" stroke="#A90A33" stroke-width="1.25"/>
<circle cx="217.75" cy="281.50" r="2.6" fill="none" stroke="#A90A33" stroke-width="1.25"/>
<circle cx="216.25" cy="307.10" r="2.6" fill="none" stroke="#A90A33" stroke-width="1.25"/>
<circle cx="216.90" cy="310.00" r="2.6" fill="none" stroke="#A90A33" stroke-width="1.25"/>
<circle cx="215.00" cy="311.50" r="2.6" fill="none" stroke="#A90A33" stroke-width="1.25"/>
<circle cx="216.25" cy="330.60" r="2.6" fill="none" stroke="#A90A33" stroke-width="1.25"/>
<circle cx="240.90" cy="337.90" r="2.6" fill="none" stroke="#A90A33" stroke-width="1.25"/>
<circle cx="240.90" cy="341.00" r="2.6" fill="none" stroke="#A90A33" stroke-width="1.25"/>
<circle cx="240.90" cy="378.00" r="2.6" fill="none" stroke="#A90A33" stroke-width="1.25"/>
<circle cx="239.40" cy="381.00" r="2.6" fill="none" stroke="#A90A33" stroke-width="1.25"/>
<circle cx="242.40" cy="381.00" r="2.6" fill="none" stroke="#A90A33" stroke-width="1.25"/>
<circle cx="240.90" cy="383.00" r="2.6" fill="none" stroke="#A90A33" stroke-width="1.25"/>
<circle cx="239.40" cy="385.00" r="2.6" fill="none" stroke="#A90A33" stroke-width="1.25"/>
<circle cx="242.40" cy="385.50" r="2.6" fill="none" stroke="#A90A33" stroke-width="1.25"/>
<circle cx="240.90" cy="387.00" r="2.6" fill="none" stroke="#A90A33" stroke-width="1.25"/>
<circle cx="240.90" cy="389.00" r="2.6" fill="none" stroke="#A90A33" stroke-width="1.25"/>
<line x1="64.90" y1="283.50" x2="72.10" y2="283.50" stroke="#111" stroke-width="1.5" stroke-linecap="butt"/>
<line x1="89.50" y1="310.00" x2="96.70" y2="310.00" stroke="#111" stroke-width="1.5" stroke-linecap="butt"/>
<line x1="114.15" y1="356.25" x2="121.35" y2="356.25" stroke="#111" stroke-width="1.5" stroke-linecap="butt"/>
<line x1="138.90" y1="330.25" x2="146.10" y2="330.25" stroke="#111" stroke-width="1.5" stroke-linecap="butt"/>
<line x1="163.30" y1="360.25" x2="170.50" y2="360.25" stroke="#111" stroke-width="1.5" stroke-linecap="butt"/>
<line x1="187.65" y1="376.25" x2="194.85" y2="376.25" stroke="#111" stroke-width="1.5" stroke-linecap="butt"/>
<line x1="212.65" y1="303.75" x2="219.85" y2="303.75" stroke="#111" stroke-width="1.5" stroke-linecap="butt"/>
<line x1="237.30" y1="376.90" x2="244.50" y2="376.90" stroke="#111" stroke-width="1.5" stroke-linecap="butt"/>
<text transform="translate(93.10,270.74) scale(1.0,1)" font-size="8.6" text-anchor="middle" font-weight="bold" letter-spacing="0.6">*</text>
<text transform="translate(118.10,332.24) scale(1.0,1)" font-size="8.6" text-anchor="middle" font-weight="bold" letter-spacing="0.6">***</text>
<text transform="translate(142.50,286.39) scale(1.0,1)" font-size="8.6" text-anchor="middle" font-weight="bold" letter-spacing="0.6">*</text>
<text transform="translate(167.30,334.24) scale(1.0,1)" font-size="8.6" text-anchor="middle" font-weight="bold" letter-spacing="0.6">***</text>
<text transform="translate(192.05,345.49) scale(1.0,1)" font-size="8.6" text-anchor="middle" font-weight="bold" letter-spacing="0.6">***</text>
<text transform="translate(216.25,270.39) scale(1.0,1)" font-size="8.6" text-anchor="middle" font-weight="bold" letter-spacing="0.6">*</text>
<text transform="translate(241.20,325.74) scale(1.0,1)" font-size="8.6" text-anchor="middle" font-weight="bold" letter-spacing="0.6">***</text>
<text transform="translate(274.90,230.80) scale(1.07,1)" font-size="15" text-anchor="middle" font-weight="bold" stroke="#000" stroke-width="0.5" stroke-linejoin="round">D</text>
<line x1="315.50" y1="265.60" x2="315.50" y2="396.60" stroke="#111" stroke-width="1.7" stroke-linecap="butt"/>
<line x1="311.20" y1="392.80" x2="508.80" y2="392.80" stroke="#111" stroke-width="1.7" stroke-linecap="butt"/>
<line x1="311.20" y1="368.08" x2="315.50" y2="368.08" stroke="#111" stroke-width="1.3" stroke-linecap="butt"/>
<line x1="311.20" y1="343.36" x2="315.50" y2="343.36" stroke="#111" stroke-width="1.3" stroke-linecap="butt"/>
<line x1="311.20" y1="318.64" x2="315.50" y2="318.64" stroke="#111" stroke-width="1.3" stroke-linecap="butt"/>
<line x1="311.20" y1="293.92" x2="315.50" y2="293.92" stroke="#111" stroke-width="1.3" stroke-linecap="butt"/>
<line x1="311.20" y1="269.20" x2="315.50" y2="269.20" stroke="#111" stroke-width="1.3" stroke-linecap="butt"/>
<text transform="translate(306.40,396.55) scale(1.08,1)" font-size="10.6" text-anchor="end" font-weight="normal" >0</text>
<text transform="translate(306.40,371.83) scale(1.08,1)" font-size="10.6" text-anchor="end" font-weight="normal" >20</text>
<text transform="translate(306.40,347.11) scale(1.08,1)" font-size="10.6" text-anchor="end" font-weight="normal" >40</text>
<text transform="translate(306.40,322.39) scale(1.08,1)" font-size="10.6" text-anchor="end" font-weight="normal" >60</text>
<text transform="translate(306.40,297.67) scale(1.08,1)" font-size="10.6" text-anchor="end" font-weight="normal" >80</text>
<text transform="translate(306.40,272.95) scale(1.08,1)" font-size="10.6" text-anchor="end" font-weight="normal" >100</text>
<line x1="370.70" y1="392.80" x2="370.70" y2="396.80" stroke="#111" stroke-width="1.3" stroke-linecap="butt"/>
<line x1="425.90" y1="392.80" x2="425.90" y2="396.80" stroke="#111" stroke-width="1.3" stroke-linecap="butt"/>
<line x1="481.10" y1="392.80" x2="481.10" y2="396.80" stroke="#111" stroke-width="1.3" stroke-linecap="butt"/>
<text transform="translate(315.50,410.80) scale(1.08,1)" font-size="10.6" text-anchor="middle" font-weight="normal" >0</text>
<text transform="translate(370.70,410.80) scale(1.08,1)" font-size="10.6" text-anchor="middle" font-weight="normal" >10</text>
<text transform="translate(425.90,410.80) scale(1.08,1)" font-size="10.6" text-anchor="middle" font-weight="normal" >20</text>
<text transform="translate(481.10,410.80) scale(1.08,1)" font-size="10.6" text-anchor="middle" font-weight="normal" >30</text>
<text transform="translate(279.10,328.80) rotate(-90) scale(0.7314,1)" font-size="12.8" text-anchor="middle" stroke="#111" stroke-width="0.55" stroke-linejoin="round">Platelet nadir (% of max)</text>
<text transform="translate(411.90,428.00) scale(0.7026,1)" font-size="12.8" text-anchor="middle" stroke="#111" stroke-width="0.55" stroke-linejoin="round">Autoantibody ratio</text>
<circle cx="322.25" cy="269.40" r="2.6" fill="none" stroke="#A90A33" stroke-width="1.25"/>
<circle cx="324.00" cy="269.40" r="2.6" fill="none" stroke="#A90A33" stroke-width="1.25"/>
<circle cx="321.60" cy="280.40" r="2.6" fill="none" stroke="#A90A33" stroke-width="1.25"/>
<circle cx="321.90" cy="288.75" r="2.6" fill="none" stroke="#A90A33" stroke-width="1.25"/>
<circle cx="323.75" cy="288.50" r="2.6" fill="none" stroke="#A90A33" stroke-width="1.25"/>
<circle cx="326.00" cy="290.40" r="2.6" fill="none" stroke="#A90A33" stroke-width="1.25"/>
<circle cx="321.50" cy="293.75" r="2.6" fill="none" stroke="#A90A33" stroke-width="1.25"/>
<circle cx="320.60" cy="298.10" r="2.6" fill="none" stroke="#A90A33" stroke-width="1.25"/>
<circle cx="323.75" cy="300.60" r="2.6" fill="none" stroke="#A90A33" stroke-width="1.25"/>
<circle cx="320.25" cy="301.50" r="2.6" fill="none" stroke="#A90A33" stroke-width="1.25"/>
<circle cx="321.25" cy="305.00" r="2.6" fill="none" stroke="#A90A33" stroke-width="1.25"/>
<circle cx="323.75" cy="305.00" r="2.6" fill="none" stroke="#A90A33" stroke-width="1.25"/>
<circle cx="321.90" cy="308.10" r="2.6" fill="none" stroke="#A90A33" stroke-width="1.25"/>
<circle cx="322.50" cy="306.50" r="2.6" fill="none" stroke="#A90A33" stroke-width="1.25"/>
<circle cx="321.90" cy="309.75" r="2.6" fill="none" stroke="#A90A33" stroke-width="1.25"/>
<circle cx="322.90" cy="314.10" r="2.6" fill="none" stroke="#A90A33" stroke-width="1.25"/>
<circle cx="321.00" cy="317.10" r="2.6" fill="none" stroke="#A90A33" stroke-width="1.25"/>
<circle cx="321.30" cy="316.60" r="2.6" fill="none" stroke="#A90A33" stroke-width="1.25"/>
<circle cx="325.90" cy="327.50" r="2.6" fill="none" stroke="#A90A33" stroke-width="1.25"/>
<circle cx="332.25" cy="335.40" r="2.6" fill="none" stroke="#A90A33" stroke-width="1.25"/>
<circle cx="330.60" cy="341.90" r="2.6" fill="none" stroke="#A90A33" stroke-width="1.25"/>
<circle cx="326.50" cy="343.40" r="2.6" fill="none" stroke="#A90A33" stroke-width="1.25"/>
<circle cx="334.00" cy="345.60" r="2.6" fill="none" stroke="#A90A33" stroke-width="1.25"/>
<circle cx="334.30" cy="345.30" r="2.6" fill="none" stroke="#A90A33" stroke-width="1.25"/>
<circle cx="344.00" cy="345.00" r="2.6" fill="none" stroke="#A90A33" stroke-width="1.25"/>
<circle cx="332.75" cy="353.30" r="2.6" fill="none" stroke="#A90A33" stroke-width="1.25"/>
<circle cx="322.40" cy="356.90" r="2.6" fill="none" stroke="#A90A33" stroke-width="1.25"/>
<circle cx="323.75" cy="358.75" r="2.6" fill="none" stroke="#A90A33" stroke-width="1.25"/>
<circle cx="328.10" cy="359.40" r="2.6" fill="none" stroke="#A90A33" stroke-width="1.25"/>
<circle cx="324.75" cy="362.10" r="2.6" fill="none" stroke="#A90A33" stroke-width="1.25"/>
<circle cx="336.00" cy="365.60" r="2.6" fill="none" stroke="#A90A33" stroke-width="1.25"/>
<circle cx="352.90" cy="364.60" r="2.6" fill="none" stroke="#A90A33" stroke-width="1.25"/>
<circle cx="326.00" cy="370.60" r="2.6" fill="none" stroke="#A90A33" stroke-width="1.25"/>
<circle cx="341.00" cy="372.25" r="2.6" fill="none" stroke="#A90A33" stroke-width="1.25"/>
<circle cx="366.40" cy="374.30" r="2.6" fill="none" stroke="#A90A33" stroke-width="1.25"/>
<circle cx="326.00" cy="379.40" r="2.6" fill="none" stroke="#A90A33" stroke-width="1.25"/>
<circle cx="339.75" cy="380.25" r="2.6" fill="none" stroke="#A90A33" stroke-width="1.25"/>
<circle cx="352.50" cy="380.60" r="2.6" fill="none" stroke="#A90A33" stroke-width="1.25"/>
<circle cx="327.25" cy="383.10" r="2.6" fill="none" stroke="#A90A33" stroke-width="1.25"/>
<circle cx="332.25" cy="383.10" r="2.6" fill="none" stroke="#A90A33" stroke-width="1.25"/>
<circle cx="332.60" cy="382.80" r="2.6" fill="none" stroke="#A90A33" stroke-width="1.25"/>
<circle cx="330.60" cy="386.60" r="2.6" fill="none" stroke="#A90A33" stroke-width="1.25"/>
<circle cx="368.75" cy="381.90" r="2.6" fill="none" stroke="#A90A33" stroke-width="1.25"/>
<circle cx="339.40" cy="387.90" r="2.6" fill="none" stroke="#A90A33" stroke-width="1.25"/>
<circle cx="322.75" cy="389.40" r="2.6" fill="none" stroke="#A90A33" stroke-width="1.25"/>
<circle cx="388.10" cy="387.75" r="2.6" fill="none" stroke="#A90A33" stroke-width="1.25"/>
<circle cx="410.25" cy="363.40" r="2.6" fill="none" stroke="#A90A33" stroke-width="1.25"/>
<circle cx="416.50" cy="383.10" r="2.6" fill="none" stroke="#A90A33" stroke-width="1.25"/>
<circle cx="435.40" cy="360.90" r="2.6" fill="none" stroke="#A90A33" stroke-width="1.25"/>
<circle cx="428.50" cy="382.90" r="2.6" fill="none" stroke="#A90A33" stroke-width="1.25"/>
<circle cx="447.50" cy="387.90" r="2.6" fill="none" stroke="#A90A33" stroke-width="1.25"/>
<circle cx="461.50" cy="386.60" r="2.6" fill="none" stroke="#A90A33" stroke-width="1.25"/>
<circle cx="469.40" cy="383.90" r="2.6" fill="none" stroke="#A90A33" stroke-width="1.25"/>
<circle cx="487.75" cy="387.75" r="2.6" fill="none" stroke="#A90A33" stroke-width="1.25"/>
<path d="M320.60,321.25 L322.00,331.00 L323.75,340.00 L325.50,347.00 L327.50,352.50 L331.70,360.00 L336.25,365.60 L342.50,370.60 L352.50,375.60 L361.25,378.10 L370.00,379.40 L391.25,382.10 L410.00,383.75 L425.00,384.60 L450.00,385.80 L480.00,387.00 L487.75,387.40" fill="none" stroke="#A90A33" stroke-width="2.1" stroke-linejoin="round" stroke-linecap="round"/>
<rect x="0" y="0" width="1.6" height="442" fill="#000"/>
<rect x="518.15" y="0" width="1.85" height="442" fill="#000"/>
<rect x="0" y="0" width="520" height="1.3" fill="#000"/>
<rect x="0" y="439.6" width="520" height="2.4" fill="#000"/>
</svg>
</body></html>
